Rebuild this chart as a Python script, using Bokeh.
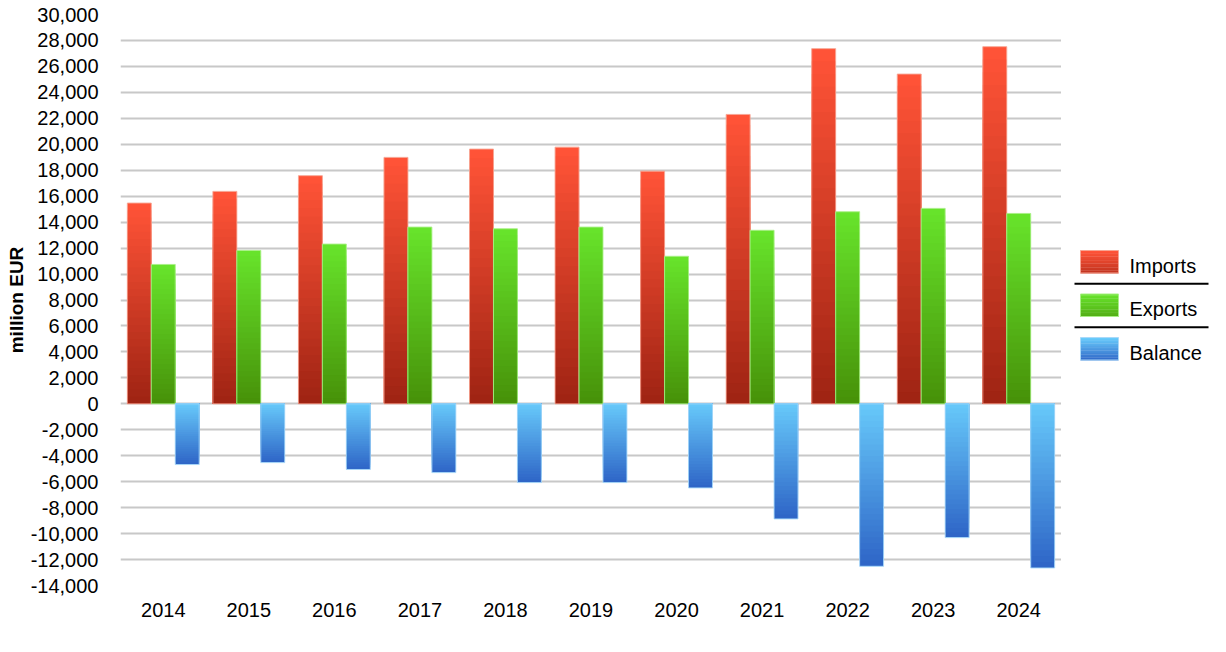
import numpy as np
from bokeh.plotting import figure
from bokeh.models import FactorRange, Range1d, FixedTicker, NumeralTickFormatter, ColumnDataSource
from bokeh.transform import dodge
from bokeh.layouts import row
from bokeh.embed import file_html
from bokeh.resources import INLINE
from bokeh.core.properties import value

# ---------------- data ----------------
years = ["2014", "2015", "2016", "2017", "2018", "2019", "2020", "2021", "2022", "2023", "2024"]
imports = [15470, 16370, 17580, 18990, 19630, 19780, 17930, 22300, 27370, 25410, 27520]
exports = [10740, 11820, 12310, 13620, 13490, 13620, 11370, 13370, 14800, 15060, 14670]
balance = [-4680, -4530, -5060, -5300, -6070, -6070, -6480, -8870, -12520, -10310, -12650]
series_names = ["Imports", "Exports", "Balance"]
y_ticks = list(range(-14000, 30001, 2000))

# ---------------- styles ----------------
FONT = "Liberation Sans"
# colour near zero line, colour at far end of bar, outline colour
styles = [
    ("#9c2212", "#ff5337", "#f7a593"),
    ("#468f08", "#67e32b", "#a9ef86"),
    ("#68cbfb", "#2f66c7", "#a9d9f9"),
]
N = 28
BAR_W = 0.28
offsets = [-BAR_W, 0.0, BAR_W]

H = 640
FT, FB = 14, 585          # frame top / bottom in page pixels
MB_TOP, MB_BOT = FT, H - FB
MAIN_W = 1061
FRAME_L = 120


def mix(c1, c2, t):
    a = np.array([int(c1[i:i + 2], 16) for i in (1, 3, 5)], dtype=float)
    b = np.array([int(c2[i:i + 2], 16) for i in (1, 3, 5)], dtype=float)
    c = np.round(a + (b - a) * t).astype(int)
    return "#%02x%02x%02x" % tuple(c)


p = figure(
    width=MAIN_W, height=H,
    x_range=FactorRange(*years, range_padding=0),
    y_range=Range1d(-14000, 30000),
    toolbar_location=None, output_backend="svg",
    min_border_left=FRAME_L, min_border_right=0, min_border_top=MB_TOP, min_border_bottom=MB_BOT,
)
p.outline_line_color = None
p.background_fill_color = "white"
p.border_fill_color = "white"

series_vals = [imports, exports, balance]
for vals, off, (c0, c1, cl) in zip(series_vals, offsets, styles):
    for k in range(N):
        frac = (N - k) / N
        src = ColumnDataSource(dict(year=years, top=[v * frac for v in vals]))
        p.vbar(x=dodge("year", off, range=p.x_range), top="top", bottom=0, width=BAR_W,
               source=src, fill_color=mix(c0, c1, frac), line_color=None)
    src = ColumnDataSource(dict(year=years, top=vals))
    p.vbar(x=dodge("year", off, range=p.x_range), top="top", bottom=0, width=BAR_W,
           source=src, fill_color=None, line_color=cl, line_width=1, line_alpha=0.9)

# axes
p.yaxis.ticker = FixedTicker(ticks=y_ticks)
p.yaxis.formatter = NumeralTickFormatter(format="0,0")
p.yaxis.axis_line_color = None
p.yaxis.major_tick_line_color = None
p.yaxis.minor_tick_line_color = None
p.yaxis.major_tick_out = 0
p.yaxis.major_tick_in = 0
p.yaxis.major_label_standoff = 22
p.yaxis.major_label_text_font = FONT
p.yaxis.major_label_text_font_size = "20px"
p.yaxis.major_label_text_color = "#000000"
p.yaxis.axis_label = "million EUR"
p.yaxis.axis_label_text_font = FONT
p.yaxis.axis_label_text_font_size = "19px"
p.yaxis.axis_label_text_font_style = "bold"
p.yaxis.axis_label_text_color = "#000000"
p.yaxis.axis_label_standoff = 1

p.xaxis.axis_line_color = None
p.xaxis.major_tick_line_color = None
p.xaxis.minor_tick_line_color = None
p.xaxis.major_tick_out = 0
p.xaxis.major_label_standoff = 17
p.xaxis.major_label_text_font = FONT
p.xaxis.major_label_text_font_size = "20px"
p.xaxis.major_label_text_color = "#000000"

p.xgrid.grid_line_color = None
p.ygrid.ticker = FixedTicker(ticks=y_ticks)
p.ygrid.grid_line_color = "#c8c8c8"
p.ygrid.grid_line_width = 2
p.ygrid.bounds = (-13000, 31000)

# ---------------- legend (separate panel, y in page pixels) ----------------
LW = 149
lf = figure(width=LW, height=H, x_range=Range1d(MAIN_W - 1060, MAIN_W - 1060 + LW),
            y_range=Range1d(FB, FT),
            toolbar_location=None, output_backend="svg",
            min_border_left=0, min_border_right=0,
            min_border_top=MB_TOP, min_border_bottom=MB_BOT)
lf.axis.visible = False
lf.grid.visible = False
lf.outline_line_color = None

SW_X0, SW_X1 = 20, 58
SW_H = 22.5
Y0 = 250
STEP = 43.5
M = 16
for i, (name, (c0, c1, cl)) in enumerate(zip(series_names, styles)):
    yt = Y0 + i * STEP
    top_c, bot_c = (c1, mix(c0, c1, 0.35)) if i < 2 else (c0, c1)
    for k in range(M):
        t = k / M
        lf.quad(left=[SW_X0], right=[SW_X1], top=[yt + SW_H * t],
                bottom=[yt + SW_H * (k + 1) / M + 0.4],
                fill_color=mix(top_c, bot_c, t), line_color=None)
    lf.quad(left=[SW_X0], right=[SW_X1], top=[yt], bottom=[yt + SW_H],
            fill_color=None, line_color=cl, line_width=1)
    lf.text(x=[69], y=[yt + 15], text=[name], text_font=value(FONT),
            text_font_size="20px", text_baseline="middle", text_align="left",
            text_color="#000000")
    if i < len(series_names) - 1:
        ys = yt + SW_H + 10.8
        lf.segment(x0=[14], x1=[148], y0=[ys], y1=[ys], line_color="#000000", line_width=2)

layout = row(p, lf)
open("out.html", "w").write(file_html(layout, INLINE))
